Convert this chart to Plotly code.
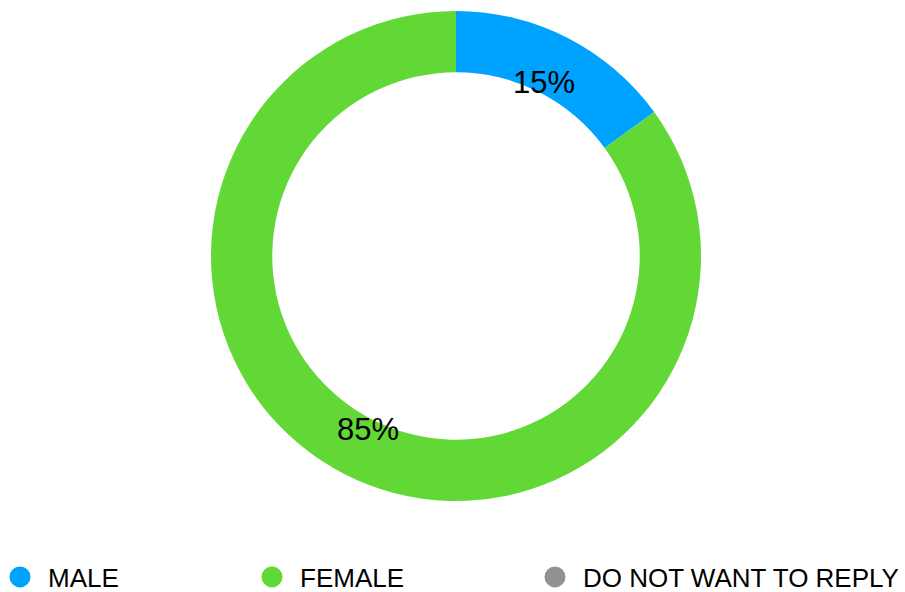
import math
import plotly.graph_objects as go

# Survey answer shares (percent)
categories = ["MALE", "FEMALE", "DO NOT WANT TO REPLY"]
shares = [15, 85, 0]
colors = ["#00A2FF", "#61D836", "#929292"]

W, H = 905, 592
cx, cy, R = 456, 256, 245     # ring centre and outer radius (px)
hole = 0.75
label_frac = 0.795            # radial position of the percent labels
font_family = "Liberation Sans, Arial, Helvetica, sans-serif"

fig = go.Figure()

fig.add_trace(go.Pie(
    labels=categories,
    values=shares,
    marker=dict(colors=colors, line=dict(width=0)),
    hole=hole,
    sort=False,
    direction="clockwise",
    rotation=0,
    textinfo="none",
    hoverinfo="label+percent",
    showlegend=False,
    domain=dict(x=[(cx - R) / W, (cx + R) / W],
                y=[(H - cy - R) / H, (H - cy + R) / H]),
))

# Percent labels placed along each slice's mid-angle
total = sum(shares)
annotations = []
cum = 0
for v in shares:
    if v > 0:
        ang = math.radians((cum + v / 2) / total * 360)
        px = cx + label_frac * R * math.sin(ang)
        py = cy - label_frac * R * math.cos(ang)
        annotations.append(dict(
            x=px / W, y=1 - py / H, xref="paper", yref="paper",
            text=f"{round(v / total * 100)}%", showarrow=False,
            font=dict(size=31, color="#000000", family=font_family),
            xanchor="center", yanchor="middle",
        ))
    cum += v

# Legend entries with round swatches, one legend per entry
legend_x = [-8, 244, 527]
legend_names = ["legend", "legend2", "legend3"]
for name, col, lg in zip(categories, colors, legend_names):
    fig.add_trace(go.Scatter(
        x=[None], y=[None], mode="markers", name=name,
        marker=dict(size=16, color=col, symbol="circle",
                    line=dict(width=5, color=col)),
        legend=lg, showlegend=True, hoverinfo="skip",
    ))

legend_common = dict(
    orientation="h", yanchor="middle", y=1 - 577 / H, xanchor="left",
    itemwidth=46,
    font=dict(size=26, color="#000000", family=font_family),
    bgcolor="rgba(0,0,0,0)", borderwidth=0, itemclick=False,
)

fig.update_layout(
    width=W, height=H,
    margin=dict(l=0, r=0, t=0, b=0, autoexpand=False),
    paper_bgcolor="#ffffff",
    plot_bgcolor="#ffffff",
    xaxis=dict(visible=False),
    yaxis=dict(visible=False),
    annotations=annotations,
    legend=dict(x=legend_x[0] / W, **legend_common),
    legend2=dict(x=legend_x[1] / W, **legend_common),
    legend3=dict(x=legend_x[2] / W, **legend_common),
    font=dict(family=font_family),
)

fig.write_html("out.html")
